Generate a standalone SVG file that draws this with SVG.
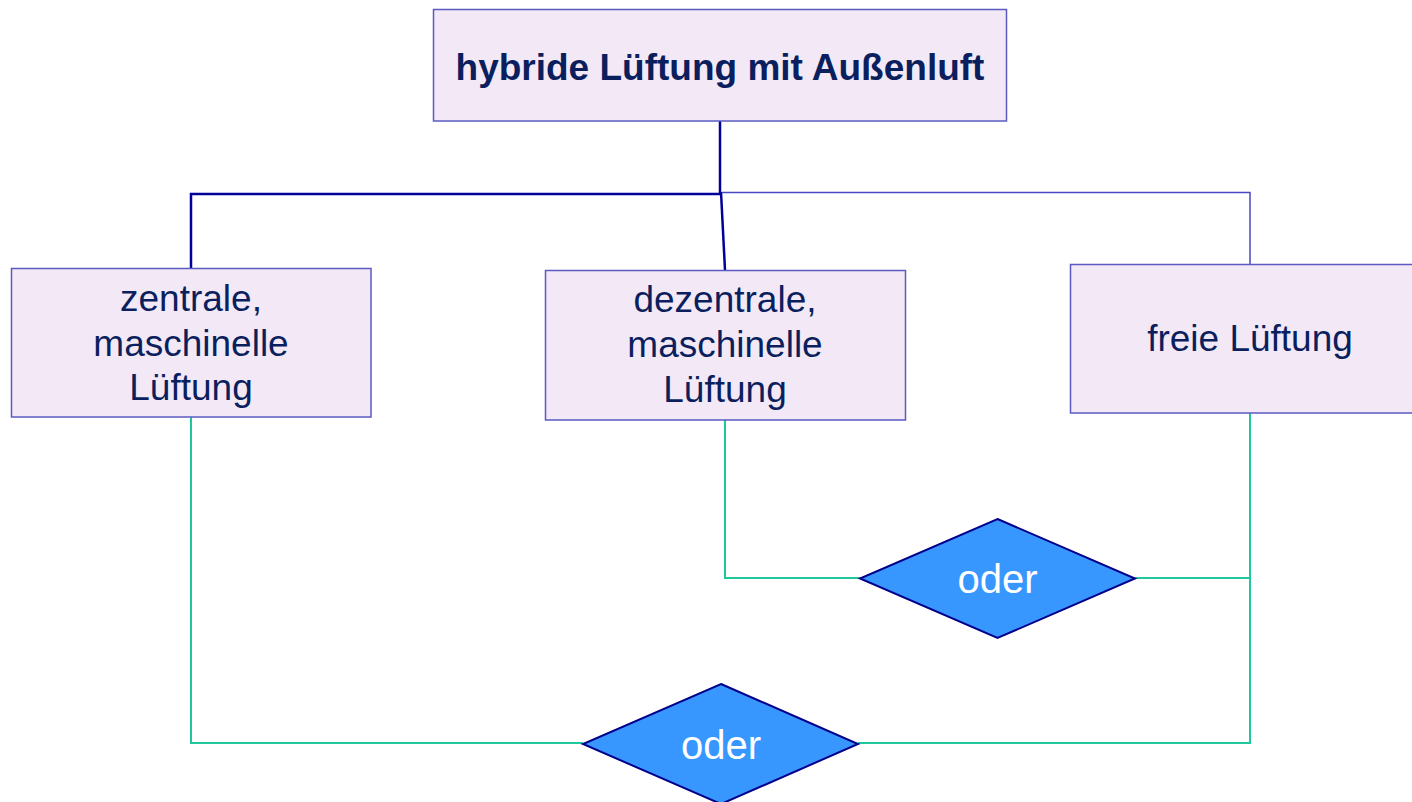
<svg xmlns="http://www.w3.org/2000/svg" width="1412" height="802" viewBox="0 0 1412 802">
<style>
.box{fill:#f3e9f6;stroke:#5a5ac0;stroke-width:1.5}
.t{font-family:"Liberation Sans",Arial,sans-serif;font-size:37px;fill:#0b1f5e;text-anchor:middle}
.b{font-weight:bold}
.dia{fill:#3897ff;stroke:#00008a;stroke-width:2}
.o{font-family:"Liberation Sans",Arial,sans-serif;font-size:40px;fill:#ffffff;text-anchor:middle}
.navy{fill:none;stroke:#00009a;stroke-width:2.5}
.thin{fill:none;stroke:#4848c4;stroke-width:1.5}
.green{fill:none;stroke:#1ec89c;stroke-width:2}
</style>
<rect width="1412" height="802" fill="#ffffff"/>
<g id="connectors">
<polyline class="navy" points="720,121 720,194 191,194 191,268"/>
<line class="navy" x1="721" y1="192" x2="725" y2="270"/>
<polyline class="thin" points="722,192.5 1250,192.5 1250,264"/>
<polyline class="green" points="191,417 191,743 583,743"/>
<polyline class="green" points="858,743 1250,743 1250,413"/>
<polyline class="green" points="725,420 725,578 860,578"/>
<line class="green" x1="1135" y1="578" x2="1250" y2="578"/>
</g>
<g id="n_hybrid">
<rect class="box" x="433.5" y="9.5" width="573" height="111.5"/>
<text class="t b" x="720" y="80">hybride Lüftung mit Außenluft</text>
</g>
<g id="n_zentral">
<rect class="box" x="11.5" y="268.5" width="359.5" height="148.5"/>
<text class="t" x="191" y="311">zentrale,</text>
<text class="t" x="191" y="356">maschinelle</text>
<text class="t" x="191" y="400">Lüftung</text>
</g>
<g id="n_dezentral">
<rect class="box" x="545.5" y="270.5" width="360" height="149.5"/>
<text class="t" x="725" y="312">dezentrale,</text>
<text class="t" x="725" y="357">maschinelle</text>
<text class="t" x="725" y="402">Lüftung</text>
</g>
<g id="n_frei">
<rect class="box" x="1070.5" y="264.5" width="360" height="148.5"/>
<text class="t" x="1250" y="351">freie Lüftung</text>
</g>
<g id="n_oder1">
<polygon class="dia" points="997.5,519 1135,578.5 997.5,638 860,578.5"/>
<text class="o" x="997.5" y="593">oder</text>
</g>
<g id="n_oder2">
<polygon class="dia" points="721,684 858,744 721,804 583,744"/>
<text class="o" x="721" y="759">oder</text>
</g>
</svg>
